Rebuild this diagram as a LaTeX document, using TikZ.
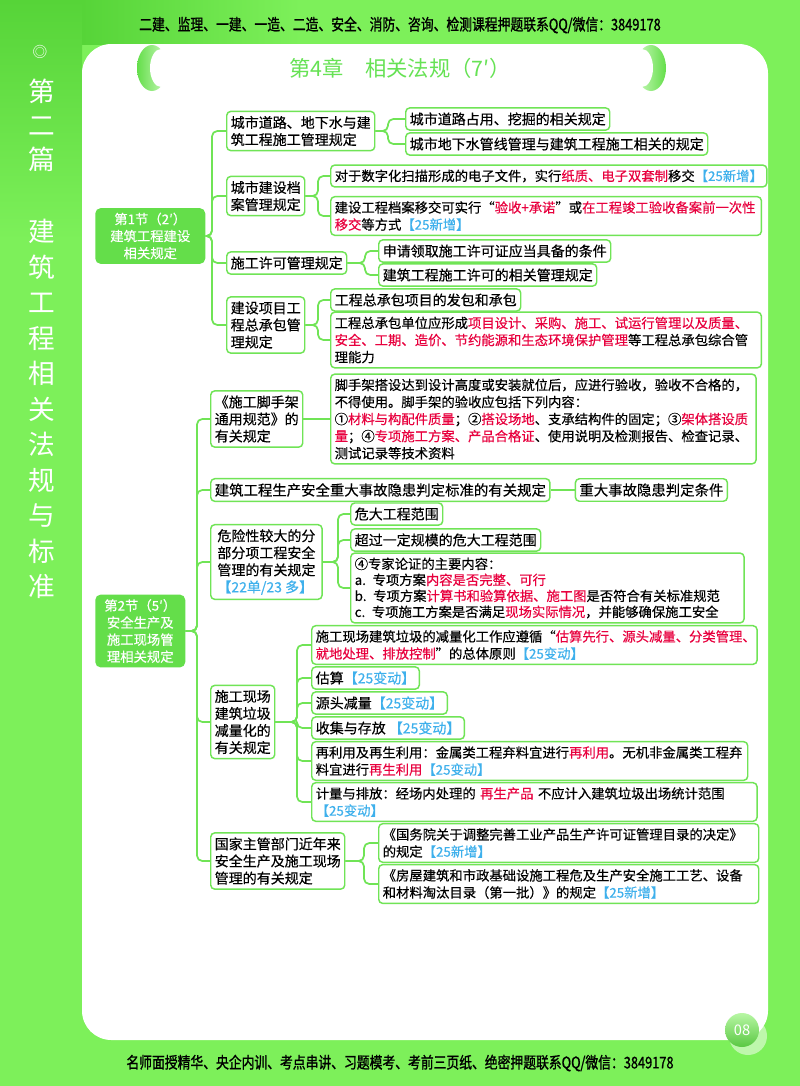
\documentclass[tikz,border=0pt]{standalone}
\usepackage{fontspec}
\setmainfont{Noto Sans CJK SC}[FakeBold=0.4]
\newfontfamily\narrowfont[FakeStretch=0.8,FakeBold=1.2]{Noto Sans CJK SC}
\newfontfamily\sidefont{Noto Sans CJK SC}
\usepackage{xcolor}
\usepackage{tikz}
\usetikzlibrary{positioning, backgrounds, calc}
\definecolor{pagegreen}{RGB}{125,240,90}
\definecolor{deepgreen}{RGB}{86,212,56}
\definecolor{linegreen}{RGB}{112,228,86}
\definecolor{secgreen}{RGB}{100,222,74}
\definecolor{titlegreen}{RGB}{102,226,84}
\definecolor{keyred}{RGB}{232,0,62}
\definecolor{tagblue}{RGB}{62,176,236}
\newcommand{\leafsize}{\fontsize{10.5}{12.8}\selectfont}
\newcommand{\parasize}{\fontsize{10}{12.8}\selectfont}
\newcommand{\kr}[1]{\textcolor{keyred}{#1}}
\newcommand{\tg}[1]{\textcolor{tagblue}{【#1】}}

\begin{document}
\begin{tikzpicture}[
    x=0.75pt, y=-0.75pt,
    every node/.style={font=\leafsize},
    leaf/.style={rectangle, rounded corners=3pt, draw=linegreen, line width=1.1pt, fill=white, inner xsep=3pt, inner ysep=3.4pt, align=left, anchor=west},
    para/.style={leaf, text width=#1, font=\parasize},
    sec/.style={rectangle, rounded corners=4pt, fill=secgreen, text=white, inner sep=3.4pt, align=center, anchor=west, font=\parasize},
    link/.style={draw=linegreen, line width=1.3pt, rounded corners=4pt},
    elbow/.style={to path={-- ++(-#1,0) |- (\tikztotarget)}}
]
\useasboundingbox (0,0) rectangle (800,1086);

% Page and card
\fill[pagegreen] (0,0) rectangle (800,1086);
\shade[top color=deepgreen, bottom color=pagegreen] (0,0) rectangle (82,240);
\shade[left color=deepgreen, right color=pagegreen] (82,0) rectangle (300,44);
\fill[white, rounded corners=22pt] (82,44) rectangle (768,1040);

% Header, title and side text
\node[font=\narrowfont\fontsize{12}{12}\selectfont] (head) at (400,25) {二建、监理、一建、一造、二造、安全、消防、咨询、检测课程押题联系QQ/微信：3849178};
\shade[left color=secgreen, right color=pagegreen!40!white] (152,68) ellipse [x radius=15, y radius=23];
\fill[white] (161,68) ellipse [x radius=11, y radius=19];
\shade[right color=secgreen, left color=pagegreen!40!white] (651,68) ellipse [x radius=15, y radius=23];
\fill[white] (642,68) ellipse [x radius=11, y radius=19];
\node[font=\sidefont\fontsize{16}{16}\selectfont, text=titlegreen] (title) at (400,68) {第4章\quad 相关法规（7′）};
\node[text=white, font=\sidefont\fontsize{11}{11}\selectfont] (mark) at (40,52) {◎};
\node[text=white, font=\sidefont\fontsize{20}{25.5}\selectfont, align=center] (side1) at (42,125) {第\\二\\篇};
\node[text=white, font=\sidefont\fontsize{20}{26.6}\selectfont, align=center] (side2) at (42,409) {建\\筑\\工\\程\\相\\关\\法\\规\\与\\标\\准};

% Section 1: construction rules
\node[sec, minimum width=82.5pt] (s1) at (95,236) {第1节（2′）\\建筑工程建设\\相关规定};

\node[leaf] (r1) at (226,131) {城市道路、地下水与建\\筑工程施工管理规定};
\node[leaf] (r1a) at (405,119) {城市道路占用、挖掘的相关规定};
\node[leaf] (r1b) at (405,144) {城市地下水管线管理与建筑工程施工相关的规定};

\node[leaf] (r2) at (226,196) {城市建设档\\案管理规定};
\node[leaf, font=\parasize] (r2a) at (330,176) {对于数字化扫描形成的电子文件，实行\kr{纸质、电子双套制}移交\tg{25新增}};
\node[para=317pt] (r2b) at (330,216) {建设工程档案移交可实行“\kr{验收+承诺}”或\kr{在工程竣工验收备案前一次性}\\\kr{移交}等方式\tg{25新增}};

\node[leaf] (r3) at (226,263) {施工许可管理规定};
\node[leaf] (r3a) at (378,251) {申请领取施工许可证应当具备的条件};
\node[leaf] (r3b) at (378,275) {建筑工程施工许可的相关管理规定};

\node[leaf] (r4) at (226,325) {建设项目工\\程总承包管\\理规定};
\node[leaf] (r4a) at (330,300) {工程总承包项目的发包和承包};
\node[para=317pt] (r4b) at (330,340) {工程总承包单位应形成\kr{项目设计、采购、施工、试运行管理以及质量、}\\\kr{安全、工期、造价、节约能源和生态环境保护管理}等工程总承包综合管\\理能力};

\draw[link] (r1.west) to[elbow=14] (s1.east);
\draw[link] (r2.west) to[elbow=14] (s1.east);
\draw[link] (r3.west) to[elbow=14] (s1.east);
\draw[link] (r4.west) to[elbow=14] (s1.east);
\draw[link] (r1a.west) to[elbow=17] (r1.east);
\draw[link] (r1b.west) to[elbow=17] (r1.east);
\draw[link] (r2a.west) to[elbow=12] (r2.east);
\draw[link] (r2b.west) to[elbow=12] (r2.east);
\draw[link] (r3a.west) to[elbow=13] (r3.east);
\draw[link] (r3b.west) to[elbow=13] (r3.east);
\draw[link] (r4a.west) to[elbow=12] (r4.east);
\draw[link] (r4b.west) to[elbow=12] (r4.east);

% Section 2: safety and site management
\node[sec, minimum width=67.5pt] (s2) at (95,631) {第2节（5′）\\安全生产及\\施工现场管\\理相关规定};

\node[leaf] (k1) at (210,419) {《施工脚手架\\通用规范》的\\有关规定};
\node[para=313pt] (k1a) at (330,419) {脚手架搭设达到设计高度或安装就位后，应进行验收，验收不合格的，\\不得使用。脚手架的验收应包括下列内容：\\①\kr{材料与构配件质量}；②\kr{搭设场地}、支承结构件的固定；③\kr{架体搭设质}\\\kr{量}；④\kr{专项施工方案、产品合格证}、使用说明及检测报告、检查记录、\\测试记录等技术资料};

\node[leaf, font=\fontsize{10.8}{12.8}\selectfont] (k2) at (210,490) {建筑工程生产安全重大事故隐患判定标准的有关规定};
\node[leaf, right=18pt of k2, font=\fontsize{10.8}{12.8}\selectfont] (k2a) {重大事故隐患判定条件};

\node[leaf, inner xsep=5pt] (k3) at (210,562) {危险性较大的分\\部分项工程安全\\管理的有关规定\\\tg{22单/23 多}};
\node[leaf] (k3a) at (350,514) {危大工程范围};
\node[leaf] (k3b) at (350,540) {超过一定规模的危大工程范围};
\node[para=289pt, font=\fontsize{10}{12}\selectfont] (k3c) at (350,588) {④专家论证的主要内容：\\a. 专项方案\kr{内容是否完整、可行}\\b. 专项方案\kr{计算书和验算依据、施工图}是否符合有关标准规范\\c. 专项施工方案是否满足\kr{现场实际情况}，并能够确保施工安全};

\node[leaf] (k4) at (210,722) {施工现场\\建筑垃圾\\减量化的\\有关规定};
\node[para=328pt] (k4a) at (311,645) {施工现场建筑垃圾的减量化工作应遵循“\kr{估算先行、源头减量、分类管理、}\\\kr{就地处理、排放控制}”的总体原则\tg{25变动}};
\node[leaf] (k4b) at (311,678) {估算\tg{25变动}};
\node[leaf] (k4c) at (311,703) {源头减量\tg{25变动}};
\node[leaf] (k4d) at (311,728) {收集与存放 \tg{25变动}};
\node[para=321pt] (k4e) at (311,761) {再利用及再生利用：金属类工程弃料宜进行\kr{再利用}。无机非金属类工程弃\\料宜进行\kr{再生利用}\tg{25变动}};
\node[para=328pt] (k4f) at (311,802) {计量与排放：经场内处理的 \kr{再生产品} 不应计入建筑垃圾出场统计范围\\\tg{25变动}};

\node[leaf] (k5) at (210,861) {国家主管部门近年来\\安全生产及施工现场\\管理的有关规定};
\node[para=279pt] (k5a) at (378,843) {《国务院关于调整完善工业产品生产许可证管理目录的决定》\\的规定\tg{25新增}};
\node[para=279pt] (k5b) at (378,884) {《房屋建筑和市政基础设施工程危及生产安全施工工艺、设备\\和材料淘汰目录（第一批）》的规定\tg{25新增}};

\draw[link] (k1.west) to[elbow=13] (s2.east);
\draw[link] (k2.west) to[elbow=13] (s2.east);
\draw[link] (k3.west) to[elbow=13] (s2.east);
\draw[link] (k4.west) to[elbow=13] (s2.east);
\draw[link] (k5.west) to[elbow=13] (s2.east);
\draw[link] (k1.east) -- (k1a.west);
\draw[link] (k2.east) -- (k2a.west);
\draw[link] (k3a.west) to[elbow=12] (k3.east);
\draw[link] (k3b.west) to[elbow=12] (k3.east);
\draw[link] (k3c.west) to[elbow=12] (k3.east);
\draw[link] (k4a.west) to[elbow=14] (k4.east);
\draw[link] (k4b.west) to[elbow=14] (k4.east);
\draw[link] (k4c.west) to[elbow=14] (k4.east);
\draw[link] (k4d.west) to[elbow=14] (k4.east);
\draw[link] (k4e.west) to[elbow=14] (k4.east);
\draw[link] (k4f.west) to[elbow=14] (k4.east);
\draw[link] (k5a.west) to[elbow=14] (k5.east);
\draw[link] (k5b.west) to[elbow=14] (k5.east);

% Footer and page number
\fill[white, opacity=0.5] (748,1036) circle (19);
\shade[top color=pagegreen!55!white, bottom color=secgreen!90!black] (742,1030) circle (17);
\node[text=white, font=\sidefont\fontsize{11}{11}\selectfont] (pgno) at (742,1030) {08};
\node[font=\narrowfont\fontsize{12}{12}\selectfont] (foot) at (400,1063) {名师面授精华、央企内训、考点串讲、习题模考、考前三页纸、绝密押题联系QQ/微信：3849178};

\end{tikzpicture}
\end{document}
